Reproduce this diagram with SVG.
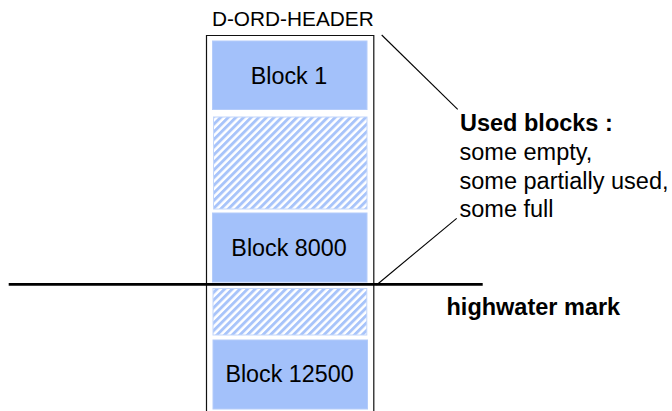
<svg xmlns="http://www.w3.org/2000/svg" width="672" height="411" viewBox="0 0 672 411">
  <style>
    text { font-family: "Liberation Sans", Arial, sans-serif; fill: #000; }
    .lbl { font-size: 23.3px; text-anchor: middle; }
    .hdr { font-size: 20.8px; text-anchor: middle; }
    .note { font-size: 23.5px; }
    .bold { font-weight: bold; }
    .block { fill: #a3c1fa; stroke: #b4ccfa; stroke-width: 1; }
    .hatch { fill: url(#hatch); stroke: #c2d6fb; stroke-width: 1; }
    .conn { stroke: #000; stroke-width: 1.1; fill: none; }
  </style>
  <defs>
    <pattern id="hatch" patternUnits="userSpaceOnUse" width="5.4" height="5.4" patternTransform="rotate(45)">
      <rect x="0" y="0" width="5.4" height="5.4" fill="#ffffff"/>
      <rect x="0" y="0" width="2.9" height="5.4" fill="#a8c4fa"/>
    </pattern>
  </defs>
  <rect width="672" height="411" fill="#ffffff"/>

  <g id="header">
    <text class="hdr" x="292.8" y="26">D-ORD-HEADER</text>
    <path d="M206.5,411 V35.5 H373.8 V411" fill="none" stroke="#111" stroke-width="1.2"/>
  </g>

  <g id="block1">
    <rect class="block" x="212.5" y="41" width="154.5" height="68.5"/>
    <text class="lbl" x="289" y="84.3">Block 1</text>
  </g>

  <g id="hatched1">
    <rect class="hatch" x="213.5" y="117" width="153.5" height="92"/>
  </g>

  <g id="block8000">
    <rect class="block" x="212.5" y="213" width="154.5" height="69"/>
    <text class="lbl" x="289" y="255.7">Block 8000</text>
  </g>

  <g id="hatched2">
    <rect class="hatch" x="213" y="288.5" width="153.8" height="46.5"/>
  </g>

  <g id="block12500">
    <rect class="block" x="213" y="340" width="154.5" height="69"/>
    <text class="lbl" x="289.5" y="382.3">Block 12500</text>
  </g>

  <g id="used-blocks">
    <text class="note bold" x="460" y="131">Used blocks :</text>
    <text class="note" x="459.5" y="160">some empty,</text>
    <text class="note" x="459.5" y="188.5">some partially used,</text>
    <text class="note" x="459.5" y="217">some full</text>
  </g>

  <g id="highwater">
    <text class="note bold" x="446.5" y="315">highwater mark</text>
  </g>

  <g id="connectors">
    <line class="conn" x1="381.7" y1="35" x2="457.7" y2="109.3"/>
    <line class="conn" x1="376.5" y1="285" x2="456.7" y2="218.3"/>
    <line x1="8.7" y1="284.3" x2="482.7" y2="284.3" stroke="#000" stroke-width="2.8"/>
  </g>
</svg>
